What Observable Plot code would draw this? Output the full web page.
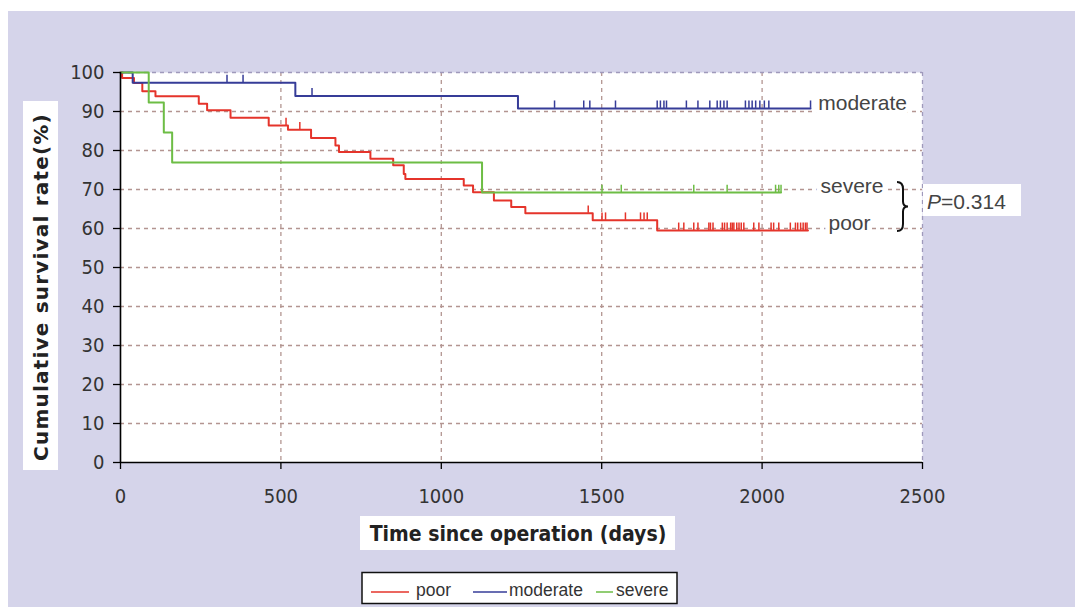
<!DOCTYPE html>
<html>
<head>
<meta charset="utf-8">
<script src="https://cdn.jsdelivr.net/npm/d3@7"></script>
<script src="https://cdn.jsdelivr.net/npm/@observablehq/plot@0.6"></script>
<style>
  html, body { margin: 0; padding: 0; background: white; }
</style>
</head>
<body>
<div id="chart"></div>
<script>
// ---- data ----
const xTicks = [0, 500, 1000, 1500, 2000, 2500];
const yTicks = [0, 10, 20, 30, 40, 50, 60, 70, 80, 90, 100];

const groups = ["poor", "moderate", "severe"];
const groupColors = ["#e5342b", "#363c98", "#6dbd45"];

const poorTimes = [0, 5, 42, 68, 109, 244, 270, 343, 462, 522, 594, 670, 681, 779, 850, 883, 888, 1070, 1099, 1164, 1218, 1262, 1472, 1673, 2143];
const poorSurv  = [100, 98.6, 97.3, 95.2, 93.9, 92.0, 90.3, 88.4, 86.4, 85.3, 83.2, 81.3, 79.6, 77.9, 76.2, 74.0, 72.7, 71.0, 69.3, 67.2, 65.5, 63.9, 62.1, 59.5, 59.5];
const poorCensor = [516, 559, 1458, 1501, 1512, 1574, 1621, 1632, 1642, 1740, 1756, 1787, 1800, 1834, 1839, 1847, 1876, 1883, 1891, 1902, 1907, 1912, 1921, 1928, 1935, 1943, 1974, 1990, 2028, 2036, 2052, 2088, 2104, 2111, 2120, 2128, 2135, 2140];

const moderateTimes = [0, 38, 545, 1239, 2151];
const moderateSurv  = [100, 97.4, 94.0, 90.8, 90.8];
const moderateCensor = [332, 382, 597, 1353, 1444, 1463, 1543, 1673, 1683, 1694, 1702, 1764, 1800, 1837, 1860, 1870, 1881, 1891, 1948, 1959, 1969, 1980, 1993, 2007, 2021, 2151];

const severeTimes = [0, 88, 135, 161, 1127, 2059];
const severeSurv  = [100, 92.3, 84.6, 76.9, 69.2, 69.2];
const severeCensor = [1501, 1561, 1787, 1891, 2042, 2052, 2059];

const pLabel = "0.314";

// ---- build tables ----
const series = [
  {g: "poor", times: poorTimes, surv: poorSurv, censor: poorCensor},
  {g: "moderate", times: moderateTimes, surv: moderateSurv, censor: moderateCensor},
  {g: "severe", times: severeTimes, surv: severeSurv, censor: severeCensor}
];
function survAt(times, surv, t) {
  let s = surv[0];
  for (let i = 0; i < times.length; i++) if (times[i] <= t) s = surv[i];
  return s;
}
const stepData = series.flatMap(d => d.times.map((t, i) => ({g: d.g, t, s: d.surv[i]})));
const censorData = series.flatMap(d => d.censor.map(t => ({g: d.g, t, s: survAt(d.times, d.surv, t)})));
const colorOf = g => groupColors[groups.indexOf(g)];

const tickFont = "'Liberation Sans Narrow', 'DejaVu Sans Condensed', sans-serif";

const chart = Plot.plot({
  width: 1075,
  height: 607,
  marginLeft: 120,
  marginTop: 72,
  marginRight: 153,
  marginBottom: 145,
  style: {background: "white", fontFamily: "'Liberation Sans', Arial, sans-serif", color: "#333", overflow: "visible"},
  x: {domain: [0, 2500]},
  y: {domain: [0, 100]},
  marks: [
    Plot.frame({fill: "white", stroke: null}),
    Plot.ruleY(yTicks.filter(v => v > 0 && v < 100), {y: d => d, stroke: "#b39591", strokeWidth: 1.3, strokeDasharray: "4,4"}),
    Plot.ruleX(xTicks.filter(v => v > 0 && v < 2500), {x: d => d, stroke: "#b39591", strokeWidth: 1.3, strokeDasharray: "4,4"}),
    Plot.ruleY([100], {stroke: "#9f99bb", strokeWidth: 1.3, strokeDasharray: "4,4"}),
    Plot.ruleX([2500], {stroke: "#9f99bb", strokeWidth: 1.3, strokeDasharray: "4,4"}),
    Plot.text([{t: 2175, s: 92.2, label: "moderate"}, {t: 2182, s: 70.8, label: "severe"}, {t: 2207, s: 61.3, label: "poor"}],
      {x: "t", y: "s", text: "label", textAnchor: "start", fontSize: 21, fill: "#444", stroke: "white", strokeWidth: 9}),
    Plot.line(stepData, {x: "t", y: "s", z: "g", stroke: d => colorOf(d.g), strokeWidth: 2, curve: "step-after"}),
    Plot.ruleX(censorData, {x: "t", y1: "s", y2: d => d.s + 1.9, stroke: d => colorOf(d.g), strokeWidth: 1.5}),
    Plot.ruleY([0], {stroke: "black", strokeWidth: 1.6}),
    Plot.ruleX([0], {stroke: "black", strokeWidth: 1.6}),
    Plot.axisX({ticks: xTicks, tickFormat: d => String(d), tickSize: 7, tickPadding: 19, label: null, fontSize: 20, fontFamily: tickFont, stroke: "black", strokeWidth: 1.3, fill: "#333"}),
    Plot.axisY({ticks: yTicks, tickFormat: d => String(d), tickSize: 7, tickPadding: 9, label: null, fontSize: 20, fontFamily: tickFont, stroke: "black", strokeWidth: 1.3, fill: "#333"})
  ]
});

document.getElementById("chart").appendChild(chart);

// ---- decorations: background, titles, annotation, legend ----
const svg = d3.select(chart);
const xs = chart.scale("x"), ys = chart.scale("y");
svg.insert("rect", ":first-child")
  .attr("x", 8).attr("y", 11).attr("width", 1075 - 8).attr("height", 607 - 11)
  .attr("fill", "#d5d4ea");

const deco = svg.append("g").attr("text-anchor", "start");
// y title
deco.append("rect").attr("x", 23).attr("y", 101).attr("width", 35).attr("height", 369).attr("fill", "white");
deco.append("text").attr("transform", "translate(41,287) rotate(-90)")
  .attr("text-anchor", "middle").attr("dominant-baseline", "central")
  .attr("font-family", "'DejaVu Sans', Verdana, sans-serif").attr("font-weight", "bold")
  .attr("font-size", 20).attr("fill", "#222").attr("letter-spacing", 1.2)
  .text("Cumulative survival rate(%)");
// x title
deco.append("rect").attr("x", 360).attr("y", 516).attr("width", 315).attr("height", 34).attr("fill", "white");
deco.append("text").attr("x", 518).attr("y", 534)
  .attr("text-anchor", "middle").attr("dominant-baseline", "central")
  .attr("font-family", "'DejaVu Sans Condensed', 'Liberation Sans Narrow', sans-serif").attr("font-weight", "bold")
  .attr("font-size", 21).attr("fill", "#222")
  .text("Time since operation (days)");

// bracket between severe and poor
const bx = xs.apply(2500) - 20;
const yTop = ys.apply(71.8), yBot = ys.apply(59.2), yMid = (yTop + yBot) / 2;
deco.append("path")
  .attr("d", `M${bx - 5},${yTop} Q${bx + 1},${yTop} ${bx + 1},${yTop + 7} L${bx + 1},${yMid - 5} Q${bx + 1},${yMid} ${bx + 6},${yMid} Q${bx + 1},${yMid} ${bx + 1},${yMid + 5} L${bx + 1},${yBot - 7} Q${bx + 1},${yBot} ${bx - 5},${yBot}`)
  .attr("fill", "none").attr("stroke", "#111").attr("stroke-width", 2);
// P value box
const px0 = xs.apply(2500) + 1;
deco.append("rect").attr("x", px0).attr("y", 184).attr("width", 98).attr("height", 32).attr("fill", "white");
const pt = deco.append("text").attr("x", px0 + 4).attr("y", 201).attr("text-anchor", "start")
  .attr("dominant-baseline", "central").attr("font-size", 21).attr("fill", "#444")
  .attr("font-family", "'Liberation Sans', Arial, sans-serif");
pt.append("tspan").attr("font-style", "italic").text("P");
pt.append("tspan").text("=" + pLabel);

// legend
const lg = deco.append("g");
lg.append("rect").attr("x", 362).attr("y", 572.5).attr("width", 315).attr("height", 31).attr("fill", "white").attr("stroke", "#111").attr("stroke-width", 1.5);
const legendItems = [
  {x1: 371, x2: 409, tx: 416},
  {x1: 473, x2: 507, tx: 509},
  {x1: 596, x2: 613, tx: 616}
];
groups.forEach((g, i) => {
  const it = legendItems[i];
  lg.append("line").attr("x1", it.x1).attr("x2", it.x2).attr("y1", 592).attr("y2", 592).attr("stroke", groupColors[i]).attr("stroke-width", 1.5);
  lg.append("text").attr("x", it.tx).attr("y", 590).attr("text-anchor", "start").attr("dominant-baseline", "central")
    .attr("font-size", 17.5).attr("fill", "#333").attr("font-family", "'Liberation Sans', Arial, sans-serif").text(g);
});
</script>
</body>
</html>
